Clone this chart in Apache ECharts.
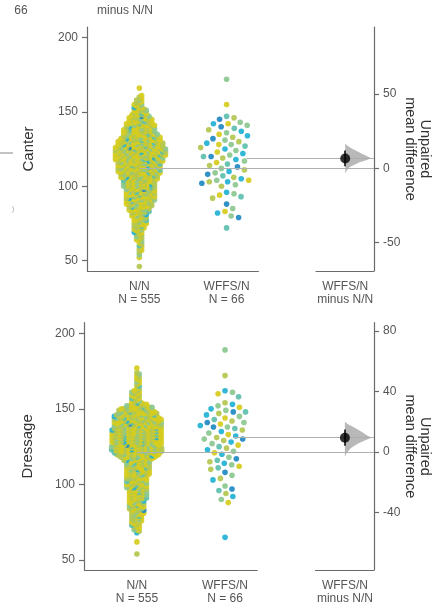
<!DOCTYPE html>
<html>
<head>
<meta charset="utf-8">
<script src="https://cdn.jsdelivr.net/npm/echarts@6/dist/echarts.min.js"></script>
<style>
html, body { margin: 0; padding: 0; background: #fff; }
#container { width: 447px; height: 606px; }
</style>
</head>
<body>
<div id="container"></div>
<script>
var groupLabels = ['N/N\nN = 555', 'WFFS/N\nN = 66', 'WFFS/N\nminus N/N'];
var leftTicks = [50, 100, 150, 200];

// Canter: N/N swarm read as counts per 1-point score row, starting at 46
var canterNNFrom = 46;
var canterNNCounts = [
    1, 0, 0, 0, 0, 0, 1, 0, 1, 0,       // 46-55
    1, 1, 1, 1, 1, 1, 1, 1, 2, 1,       // 56-65
    2, 1, 2, 2, 2, 2, 3, 2, 3, 3,       // 66-75
    3, 3, 3, 3, 4, 3, 4, 4, 5, 4,       // 76-85
    5, 5, 6, 5, 6, 6, 6, 6, 6, 6,       // 86-95
    6, 6, 6, 6, 7, 6, 7, 6, 7, 7,       // 96-105
    8, 7, 8, 8, 9, 8, 9, 8, 9, 8,       // 106-115
    9, 9, 10, 9, 10, 10, 10, 10, 10, 10, // 116-125
    10, 9, 9, 9, 9, 8, 8, 8, 7, 7,      // 126-135
    7, 6, 7, 6, 6, 6, 6, 5, 5, 5,       // 136-145
    5, 4, 4, 3, 3, 3, 3, 2, 2, 2,       // 146-155
    2, 1, 2, 1, 1, 1, 0, 0, 0, 0,       // 156-165
    1                                   // 166
];
var canterWFFS = [172, 155, 147, 146, 145, 143, 142, 142, 141, 140, 139, 138, 137, 136, 135, 134,
    133, 132, 131, 130, 129, 128, 128, 127, 126, 125, 124, 123, 122, 121, 120, 120, 119, 118, 117,
    116, 115, 114, 113, 112, 111, 110, 109, 108, 107, 106, 105, 104, 104, 103, 103, 102, 101, 100,
    96, 95, 94, 93, 92, 88, 85, 83, 82, 80, 79, 72];
var canterMeans = [112.0, 118.7];
var canterCI = [1.5, 12.0];
var canterDiffTicks = [-50, 0, 50];
var canterBootDiff = [-3.4, -1.0, 0.9, 2.5, 4.2, 5.5, 6.9, 8.5, 10.1, 11.8, 13.4, 15.0, 16.6];
var canterBootDensity = [0, 0.07, 0.18, 0.35, 0.55, 0.8, 1, 0.8, 0.62, 0.42, 0.25, 0.1, 0];

// Dressage
var dressageNNFrom = 54;
var dressageNNCounts = [
    1, 0, 0, 0, 0, 0, 0, 0, 1, 0,       // 54-63
    0, 0, 0, 0, 1, 1, 2, 1, 2, 2,       // 64-73
    2, 2, 3, 2, 3, 2, 3, 3, 3, 3,       // 74-83
    4, 3, 4, 3, 4, 3, 4, 4, 4, 4,       // 84-93
    4, 4, 4, 4, 5, 4, 5, 4, 5, 4,       // 94-103
    5, 4, 5, 5, 5, 5, 5, 5, 5, 5,       // 104-113
    5, 5, 6, 6, 8, 8, 10, 9, 11, 10,    // 114-123
    11, 10, 10, 10, 11, 10, 11, 10, 11, 10, // 124-133
    11, 10, 11, 10, 10, 10, 10, 10, 10, 10, // 134-143
    10, 9, 9, 8, 8, 7, 7, 6, 5, 4,      // 144-153
    3, 2, 2, 2, 2, 2, 2, 2, 2, 1,       // 154-163
    1, 1, 1, 1, 1, 1, 1, 1, 1, 1,       // 164-173
    1, 0, 0, 1                          // 174-177
];
var dressageWFFS = [189, 172, 162, 161, 160, 158, 154, 153, 152, 151, 150, 149, 148, 148, 147, 146,
    145, 144, 143, 142, 141, 141, 140, 139, 138, 138, 137, 136, 135, 134, 133, 132, 131, 130, 130,
    129, 128, 127, 126, 125, 124, 123, 122, 121, 120, 118, 117, 116, 115, 114, 113, 112, 111, 110,
    108, 106, 104, 103, 99, 97, 96, 94, 92, 90, 88, 65];
var dressageMeans = [121.4, 130.9];
var dressageCI = [4.2, 15.0];
var dressageDiffTicks = [-40, 0, 40, 80];
var dressageBootDiff = [-3.1, -0.5, 2.5, 4.2, 5.8, 7.6, 9.5, 11.5, 13.5, 15.2, 16.8, 18.5, 20.1];
var dressageBootDensity = [0, 0.07, 0.22, 0.36, 0.52, 0.75, 1, 0.8, 0.63, 0.45, 0.3, 0.12, 0];

var palette = ['#d6cc1e', '#b4c74f', '#8bc88f', '#5cbfad', '#22b1d4', '#2089c3'];
var nnColorWeights = [0.46, 0.33, 0.13, 0.05, 0.025, 0.005];
var wffsColorWeights = [0.13, 0.19, 0.24, 0.12, 0.19, 0.13];

var X_MIN = 0.4, X_MAX = 3.69, DIFF_X = 3.36;
var textColor = '#555', axisColor = '#6a6a6a';

var panels = [
    { name: 'Canter', grid: { left: 87, top: 27, width: 287, height: 244 }, yRange: [43, 207.1],
      nnFrom: canterNNFrom, counts: canterNNCounts, wffs: canterWFFS, means: canterMeans, ci: canterCI,
      diffTicks: canterDiffTicks, bootDiff: canterBootDiff, bootDensity: canterBootDensity,
      nameGap: 51, testLineStart: 2.23, colorSeed: 0.8 },
    { name: 'Dressage', grid: { left: 84, top: 322.7, width: 290, height: 247.3 }, yRange: [43.4, 207],
      nnFrom: dressageNNFrom, counts: dressageNNCounts, wffs: dressageWFFS, means: dressageMeans, ci: dressageCI,
      diffTicks: dressageDiffTicks, bootDiff: dressageBootDiff, bootDensity: dressageBootDensity,
      nameGap: 49, testLineStart: 2.09, colorSeed: 0.912 }
];

function pickColor(i, weights, seed) {
    var u = ((i + 1) * 0.6180339887 + seed) % 1;
    var acc = 0;
    for (var k = 0; k < weights.length; k++) {
        acc += weights[k];
        if (u < acc) return palette[k];
    }
    return palette[palette.length - 1];
}

// simple beeswarm: nearest free x offset (in px) for each point
function beeswarm(vals, center, d, pxX, pxY) {
    var placed = [], out = [];
    for (var i = 0; i < vals.length; i++) {
        var y = vals[i] * pxY;
        var near = placed.filter(function(p) { return Math.abs(p.y - y) < d; });
        var cands = [0];
        near.forEach(function(p) {
            var dx = Math.sqrt(d * d - (p.y - y) * (p.y - y));
            cands.push(p.x + dx, p.x - dx);
        });
        cands.sort(function(a, b) { return Math.abs(a) - Math.abs(b); });
        var x = 0;
        for (var c = 0; c < cands.length; c++) {
            var cx = cands[c];
            var ok = near.every(function(p) {
                var dx = p.x - cx, dy = p.y - y;
                return dx * dx + dy * dy >= d * d - 1e-6;
            });
            if (ok) { x = cx; break; }
        }
        placed.push({ x: x, y: y });
        out.push([center + x / pxX, vals[i]]);
    }
    return out;
}

var grids = [], xAxes = [], yAxes = [], series = [];

panels.forEach(function(p, i) {
    var pxX = p.grid.width / (X_MAX - X_MIN);
    var pxY = p.grid.height / (p.yRange[1] - p.yRange[0]);
    var ctrl = p.means[0];
    var diff = p.means[1] - p.means[0];
    var yl = 2 * i, yr = 2 * i + 1;

    grids.push(p.grid);
    xAxes.push({
        gridIndex: i, type: 'value', min: X_MIN, max: X_MAX,
        axisLine: { show: false }, axisTick: { show: false }, splitLine: { show: false },
        axisLabel: {
            customValues: [1, 2, DIFF_X], fontSize: 12, lineHeight: 13, color: textColor, margin: 9.5,
            formatter: function(v) {
                if (Math.abs(v - 1) < 1e-6) return groupLabels[0];
                if (Math.abs(v - 2) < 1e-6) return groupLabels[1];
                return groupLabels[2];
            }
        }
    });
    yAxes.push({
        gridIndex: i, type: 'value', position: 'left', min: p.yRange[0], max: p.yRange[1],
        name: p.name, nameLocation: 'middle', nameRotate: 90, nameGap: p.nameGap,
        nameTextStyle: { fontSize: 15, color: '#333' },
        axisLine: { show: true, lineStyle: { color: axisColor, width: 1.2 } },
        axisTick: { show: true, length: 5, customValues: leftTicks, lineStyle: { color: axisColor, width: 1.2 } },
        axisLabel: { customValues: leftTicks, fontSize: 12, color: textColor, margin: 9 },
        splitLine: { show: false }
    });
    yAxes.push({
        gridIndex: i, type: 'value', position: 'right', min: p.yRange[0] - ctrl, max: p.yRange[1] - ctrl,
        name: 'Unpaired\nmean difference', nameLocation: 'middle', nameRotate: -90, nameGap: 28,
        nameMoveOverlap: false,
        nameTextStyle: { fontSize: 14.5, lineHeight: 15, color: '#333' },
        axisLine: { show: true, lineStyle: { color: axisColor, width: 1.2 } },
        axisTick: { show: true, length: 5, customValues: p.diffTicks, lineStyle: { color: axisColor, width: 1.2 } },
        axisLabel: { customValues: p.diffTicks, fontSize: 12, color: textColor, margin: 9 },
        splitLine: { show: false }
    });

    // expand the N/N rows into single points
    var nnVals = [];
    p.counts.forEach(function(c, k) {
        for (var n = 0; n < c; n++) nnVals.push(p.nnFrom + k);
    });
    var nnPts = beeswarm(nnVals, 1, 2.75, pxX, pxY).map(function(pt, k) {
        return { value: pt, itemStyle: { color: pickColor(k, nnColorWeights, 0.13 * i) } };
    });
    var wffsPts = beeswarm(p.wffs, 2, 7.6, pxX, pxY).map(function(pt, k) {
        return { value: pt, itemStyle: { color: pickColor(k, wffsColorWeights, p.colorSeed) } };
    });

    var y0 = p.yRange[0];
    series.push({
        type: 'lines', coordinateSystem: 'cartesian2d', xAxisIndex: i, yAxisIndex: yl,
        silent: true, clip: false, z: 4,
        lineStyle: { color: axisColor, width: 1.2, opacity: 1 },
        data: [{ coords: [[X_MIN, y0], [2.37, y0]] }, { coords: [[3.02, y0], [X_MAX, y0]] }]
    });
    series.push({
        type: 'scatter', xAxisIndex: i, yAxisIndex: yl, symbolSize: 5.6, silent: true, z: 2,
        itemStyle: { opacity: 0.92 }, data: nnPts
    });
    series.push({
        type: 'scatter', xAxisIndex: i, yAxisIndex: yl, symbolSize: 5.6, silent: true, z: 2,
        itemStyle: { opacity: 0.92 }, data: wffsPts
    });
    series.push({
        type: 'lines', coordinateSystem: 'cartesian2d', xAxisIndex: i, yAxisIndex: yl,
        silent: true, clip: false, z: 3,
        lineStyle: { color: '#b0b0b0', width: 1, opacity: 1 },
        data: [{ coords: [[1, p.means[0]], [X_MAX, p.means[0]]] },
               { coords: [[p.testLineStart, p.means[1]], [X_MAX, p.means[1]]] }]
    });
    series.push({
        type: 'custom', xAxisIndex: i, yAxisIndex: yr, silent: true, z: 4,
        data: [[DIFF_X, diff]],
        renderItem: function(params, api) {
            var pts = [];
            for (var k = 0; k < p.bootDiff.length; k++) {
                pts.push(api.coord([DIFF_X + p.bootDensity[k] * 0.3, p.bootDiff[k]]));
            }
            pts.push(api.coord([DIFF_X, p.bootDiff[p.bootDiff.length - 1]]));
            pts.push(api.coord([DIFF_X, p.bootDiff[0]]));
            return { type: 'polygon', shape: { points: pts }, style: { fill: '#acacac', opacity: 0.85 } };
        }
    });
    series.push({
        type: 'lines', coordinateSystem: 'cartesian2d', xAxisIndex: i, yAxisIndex: yr,
        silent: true, clip: false, z: 5,
        lineStyle: { color: '#000', width: 1.5, opacity: 1 },
        data: [{ coords: [[DIFF_X, p.ci[0]], [DIFF_X, p.ci[1]]] }]
    });
    series.push({
        type: 'scatter', xAxisIndex: i, yAxisIndex: yr, symbolSize: 10, silent: true, z: 6,
        itemStyle: { color: '#000' }, data: [[DIFF_X, diff]]
    });
});

var myChart = echarts.init(document.getElementById('container'));
myChart.setOption({
    animation: false,
    backgroundColor: '#fff',
    textStyle: { fontFamily: 'Liberation Sans, Arial, Helvetica, sans-serif' },
    grid: grids,
    xAxis: xAxes,
    yAxis: yAxes,
    series: series,
    graphic: [
        // remnants of the panel above, cut by the crop
        { type: 'text', x: 21, y: 11, style: { text: '66', fontSize: 12, fill: textColor, align: 'center', verticalAlign: 'middle', fontFamily: 'Liberation Sans, Arial, sans-serif' } },
        { type: 'text', x: 125, y: 11, style: { text: 'minus N/N', fontSize: 12, fill: textColor, align: 'center', verticalAlign: 'middle', fontFamily: 'Liberation Sans, Arial, sans-serif' } },
        { type: 'line', shape: { x1: 0, y1: 153, x2: 13, y2: 153 }, style: { stroke: '#888', lineWidth: 1 } },
        { type: 'text', x: 13, y: 209, style: { text: ')', fontSize: 8, fill: '#aaa', align: 'center', verticalAlign: 'middle' } }
    ]
});
</script>
</body>
</html>
